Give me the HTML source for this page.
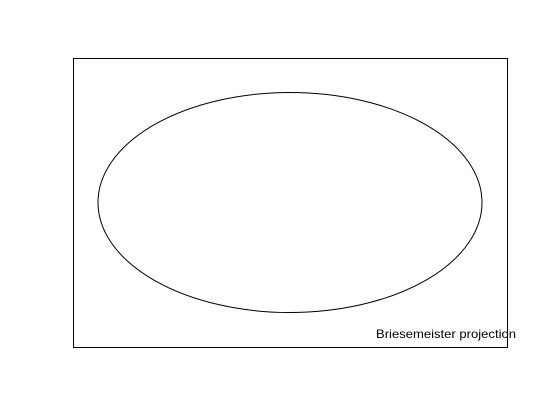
<!DOCTYPE html>
<html>
<head>
<meta charset="utf-8">
<style>
  html, body { margin: 0; padding: 0; background: #ffffff; }
  svg { display: block; }
  text { font-family: "Liberation Sans", sans-serif; }
</style>
</head>
<body>
<svg width="560" height="420" viewBox="0 0 560 420">
  <rect x="73.5" y="58.5" width="434" height="289" fill="none" stroke="#000" stroke-width="1"/>
  <ellipse cx="290" cy="202.5" rx="192" ry="110" fill="none" stroke="#000" stroke-width="1"/>
  <text x="376" y="338" font-size="12" fill="#000" textLength="140" lengthAdjust="spacingAndGlyphs">Briesemeister projection</text>
</svg>
</body>
</html>
